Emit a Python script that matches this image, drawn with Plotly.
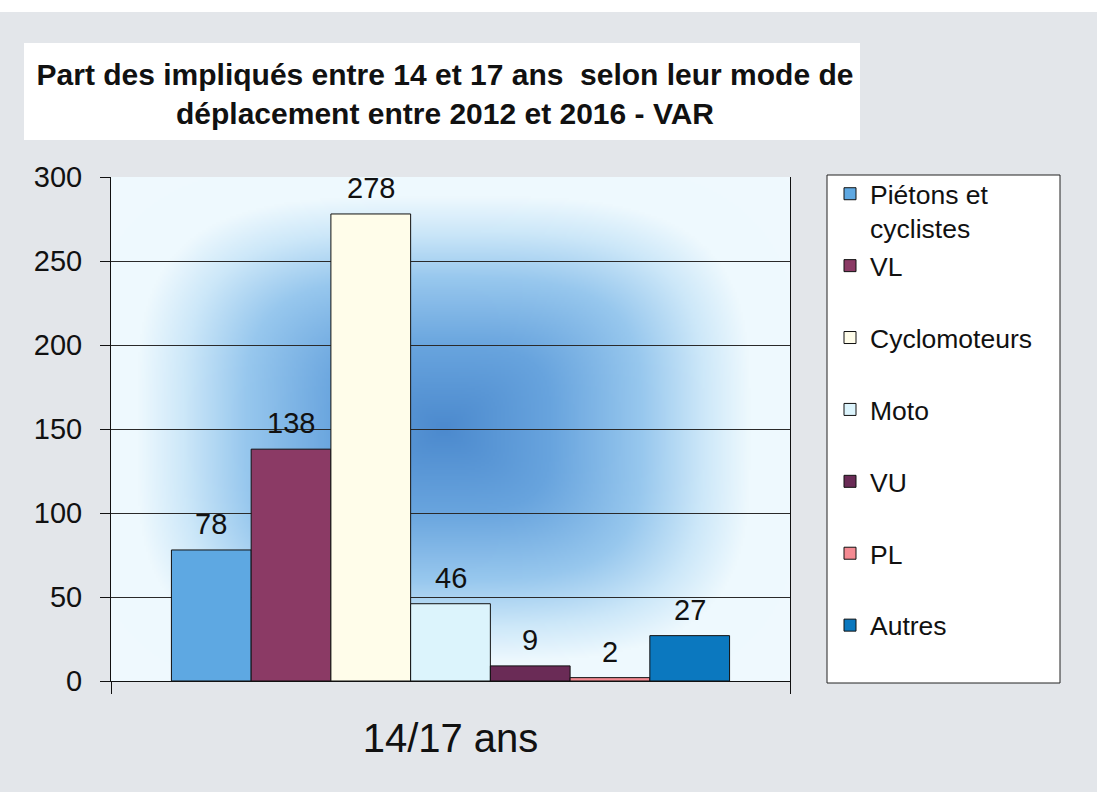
import base64, struct, zlib
import numpy as np
import plotly.graph_objects as go

# ---- data ----
category = ["14/17 ans"]
series_names = ["Piétons et<br>cyclistes", "VL<br>&nbsp;", "Cyclomoteurs<br>&nbsp;", "Moto<br>&nbsp;",
                "VU<br>&nbsp;", "PL<br>&nbsp;", "Autres<br>&nbsp;"]
series_values = [78, 138, 278, 46, 9, 2, 27]
series_colors = ["#5ea8e2", "#8b3a65", "#fffdea", "#dcf4fc", "#6a2b56", "#f48a92", "#0b78bf"]
y_ticks = [0, 50, 100, 150, 200, 250, 300]
title_text = ("Part des impliqués entre 14 et 17 ans&nbsp; selon leur mode de<br>"
              "déplacement entre 2012 et 2016 - VAR")

# ---- gradient background for plot area (PNG built in memory) ----
def make_png(arr):
    h, w, _ = arr.shape
    raw = b"".join(b"\x00" + arr[i].tobytes() for i in range(h))
    def chunk(tag, data):
        c = struct.pack(">I", len(data)) + tag + data
        return c + struct.pack(">I", zlib.crc32(tag + data) & 0xffffffff)
    png = b"\x89PNG\r\n\x1a\n"
    png += chunk(b"IHDR", struct.pack(">IIBBBBB", w, h, 8, 2, 0, 0, 0))
    png += chunk(b"IDAT", zlib.compress(raw, 9))
    png += chunk(b"IEND", b"")
    return png

W, H = 340, 252
xs = (np.arange(W) + 0.5) / W
ys = (np.arange(H) + 0.5) / H
X, Y = np.meshgrid(xs, ys)
u = np.abs(X - 0.49) / 0.45
v = np.abs(Y - 0.50) / 0.46
d = (u ** 3.5 + v ** 3.5) ** (1 / 3.5)
stops_t = [0.0, 0.35, 0.65, 0.85, 1.0, 2.0]
stops_c = np.array([[76, 138, 206], [104, 164, 222], [152, 200, 238],
                    [205, 232, 249], [238, 249, 254], [244, 251, 254]], float)
img = np.zeros((H, W, 3))
for k in range(3):
    img[..., k] = np.interp(d, stops_t, stops_c[:, k])
img = img.clip(0, 255).astype(np.uint8)
grad_uri = "data:image/png;base64," + base64.b64encode(make_png(img)).decode()

# ---- figure ----
LABEL_FONT = dict(family="Liberation Sans, Arial", size=29, color="#111111")
fig = go.Figure()
for name, val, col in zip(series_names, series_values, series_colors):
    fig.add_trace(go.Bar(
        x=category, y=[val], name=name,
        marker=dict(color=col, line=dict(color="#111111", width=1)),
        hoverinfo="skip",
    ))

# data labels placed on each bar of the group (grouped-bar slot centres)
BARGAP = 0.178
n = len(series_values)
slot = (1 - BARGAP) / n
annotations = []
for i, val in enumerate(series_values):
    annotations.append(dict(
        x=-(1 - BARGAP) / 2 + (i + 0.5) * slot, y=val, xref="x", yref="y",
        text=str(val), showarrow=False, yanchor="bottom", yshift=8,
        font=LABEL_FONT,
    ))

# plot-area geometry in px
L, R, T, B = 111, 307, 177, 111
PW, PH = 1097 - L - R, 792 - T - B
def px_x(p): return (p - L) / PW
def px_y(p): return (792 - B - p) / PH

fig.update_layout(
    width=1097, height=792,
    margin=dict(l=L, r=R, t=T, b=B),
    paper_bgcolor="#e3e6ea", plot_bgcolor="#ffffff",
    barmode="group", bargap=BARGAP, bargroupgap=0,
    font=dict(family="Liberation Sans, Arial", color="#111111"),
    title=dict(text=title_text, x=445 / 1097, xanchor="center",
               y=1 - 85 / 792, yanchor="middle", yref="container",
               font=dict(family="Liberation Sans, Arial", size=30, color="#111111",
                         weight="bold")),
    showlegend=True,
    legend=dict(x=px_x(830), y=px_y(170), xanchor="left", yanchor="top",
                bgcolor="rgba(0,0,0,0)", borderwidth=0, valign="top",
                maxheight=700,
                font=dict(family="Liberation Sans, Arial", size=26.5, color="#111111"),
                traceorder="normal"),
    annotations=annotations,
    images=[dict(source=grad_uri, xref="paper", yref="paper", x=0, y=1,
                 sizex=1, sizey=1, sizing="stretch", xanchor="left", yanchor="top",
                 layer="below")],
    shapes=[
        # white strip at top of page
        dict(type="rect", xref="paper", yref="paper", x0=px_x(0), x1=px_x(1097),
             y0=px_y(12), y1=px_y(0), fillcolor="white", line=dict(width=0), layer="below"),
        # title box
        dict(type="rect", xref="paper", yref="paper", x0=px_x(24), x1=px_x(860),
             y0=px_y(140), y1=px_y(43), fillcolor="white", line=dict(width=0), layer="below"),
        # legend box
        dict(type="rect", xref="paper", yref="paper", x0=px_x(827), x1=px_x(1060),
             y0=px_y(683), y1=px_y(175), fillcolor="white",
             line=dict(color="#222222", width=1), layer="below"),
    ],
)

fig.update_yaxes(range=[0, 300], tickvals=y_ticks, showgrid=True, gridcolor="#2a2a2a",
                 gridwidth=1, showline=True, linecolor="#111111", linewidth=1, mirror=True,
                 ticks="outside", ticklen=10, tickcolor="#111111", ticklabelstandoff=12,
                 tickfont=dict(family="Liberation Sans, Arial", size=29, color="#111111"),
                 zeroline=False, fixedrange=True)
fig.update_xaxes(showline=True, linecolor="#111111", linewidth=1, ticks="outside",
                 tickson="boundaries", ticklen=12, tickcolor="#111111",
                 ticklabelstandoff=22,
                 tickfont=dict(family="Liberation Sans, Arial", size=40, color="#111111"),
                 fixedrange=True)

fig.write_html("out.html", config={"displayModeBar": False},
               post_script="document.body.style.margin='0';document.body.style.padding='0';")
